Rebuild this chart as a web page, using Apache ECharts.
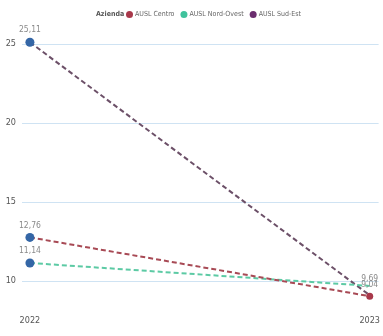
<!DOCTYPE html>
<html>
<head>
<meta charset="utf-8">
<script src="https://cdn.jsdelivr.net/npm/echarts@6/dist/echarts.min.js"></script>
<style>
  html, body { margin: 0; padding: 0; background: #fff; }
  #chart { width: 383px; height: 336px; }
</style>
</head>
<body>
<div id="chart"></div>
<script>
// Anni sull'asse orizzontale
const years = ['2022', '2023'];
// Valori per azienda sanitaria
const centro = [12.76, 9.04];
const nordOvest = [11.14, 9.69];
const sudEst = [25.11, 9.1];
// Tacche dell'asse verticale
const yTicks = [10, 15, 20, 25];

const seriesNames = ['AUSL Centro', 'AUSL Nord-Ovest', 'AUSL Sud-Est'];
const seriesColors = ['#a8384a', '#3fc29c', '#6b2d6e'];
const lineColors = ['#a84a55', '#5ccaa4', '#6c5068'];
const FONT = '"DejaVu Sans Condensed", "Liberation Sans Narrow", "Liberation Sans", sans-serif';

const fmt = v => String(v).replace('.', ',');

function makeSeries(idx, values, showLast, lastMarker) {
  return {
    name: seriesNames[idx],
    type: 'line',
    clip: false,
    color: seriesColors[idx],
    data: values.map((v, i) => [i, v]),
    symbol: 'circle',
    symbolSize: (val, p) => p.dataIndex === 0 ? 9 : (lastMarker ? 7 : 0),
    itemStyle: {
      color: p => p.dataIndex === 0 ? '#3466a6' : seriesColors[idx]
    },
    lineStyle: { color: lineColors[idx], width: 2, type: [5, 3] },
    label: {
      show: true,
      position: 'top',
      distance: 3,
      fontFamily: FONT,
      fontSize: 8.5,
      color: '#8a8a8a',
      formatter: p => (p.dataIndex === 1 && !showLast) ? '' : fmt(p.value[1])
    },
    emphasis: { disabled: true },
    z: 3 - idx
  };
}

const chart = echarts.init(document.getElementById('chart'), null, { renderer: 'canvas' });
chart.setOption({
  animation: false,
  backgroundColor: '#ffffff',
  title: {
    text: 'Azienda',
    left: 91,
    top: 6,
    textStyle: { fontFamily: FONT, fontSize: 7, fontWeight: 'bold', color: '#555' }
  },
  legend: {
    data: seriesNames,
    left: 121,
    top: 6,
    icon: 'circle',
    itemWidth: 7,
    itemHeight: 7,
    itemGap: 6,
    textStyle: { fontFamily: FONT, fontSize: 7, color: '#666', padding: [0, 0, 0, -3] }
  },
  grid: { left: 22, right: 0, top: 44, bottom: 55, containLabel: false },
  xAxis: {
    type: 'value',
    min: -0.0233,
    max: 1.0262,
    axisLine: { show: false },
    axisTick: { show: false },
    splitLine: { show: false },
    axisLabel: {
      customValues: years.map((y, i) => i),
      formatter: v => years[Math.round(v)],
      margin: 35,
      fontFamily: FONT,
      fontSize: 9,
      color: '#555'
    }
  },
  yAxis: {
    type: 'value',
    min: yTicks[0],
    max: yTicks[yTicks.length - 1],
    interval: 5,
    axisLine: { show: false },
    axisTick: { show: false },
    splitLine: { lineStyle: { color: '#cfe3f3', width: 1 } },
    axisLabel: { margin: 6, fontFamily: FONT, fontSize: 9, color: '#555' }
  },
  series: [
    makeSeries(0, centro, true, true),
    makeSeries(1, nordOvest, true, false),
    makeSeries(2, sudEst, false, false)
  ]
});
</script>
</body>
</html>
